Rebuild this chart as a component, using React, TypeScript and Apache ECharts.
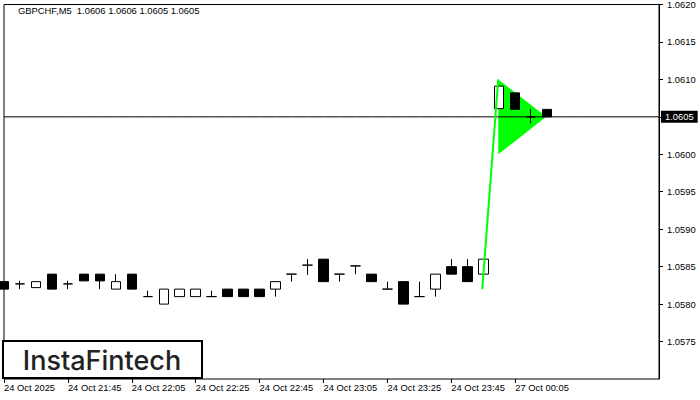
import React, { useEffect, useRef } from "react";
import * as echarts from "echarts";

const symbolName = "GBPCHF,M5";

const categories = [
  "24 Oct 21:25", "24 Oct 21:30", "24 Oct 21:35", "24 Oct 21:40", "24 Oct 21:45", "24 Oct 21:50",
  "24 Oct 21:55", "24 Oct 22:00", "24 Oct 22:05", "24 Oct 22:10", "24 Oct 22:15", "24 Oct 22:20",
  "24 Oct 22:25", "24 Oct 22:30", "24 Oct 22:35", "24 Oct 22:40", "24 Oct 22:45", "24 Oct 22:50",
  "24 Oct 22:55", "24 Oct 23:00", "24 Oct 23:05", "24 Oct 23:10", "24 Oct 23:15", "24 Oct 23:20",
  "24 Oct 23:25", "24 Oct 23:30", "24 Oct 23:35", "24 Oct 23:40", "24 Oct 23:45", "24 Oct 23:50",
  "24 Oct 23:55", "27 Oct 00:00", "27 Oct 00:05", "27 Oct 00:10", "27 Oct 00:15", "27 Oct 00:20",
  "27 Oct 00:25", "27 Oct 00:30", "27 Oct 00:35", "27 Oct 00:40", "27 Oct 00:45", "27 Oct 00:50",
];

const xTickLabels = [
  "24 Oct 2025", "24 Oct 21:45", "24 Oct 22:05", "24 Oct 22:25", "24 Oct 22:45",
  "24 Oct 23:05", "24 Oct 23:25", "24 Oct 23:45", "27 Oct 00:05",
];

const opens = [
  1.0583, 1.05827, 1.05822, 1.0584, 1.05827, 1.0584, 1.0584, 1.0582, 1.0584, 1.0581,
  1.058, 1.0581, 1.0581, 1.0581, 1.0582, 1.0582, 1.0582, 1.0582, 1.0584, 1.05852,
  1.0586, 1.0584, 1.05851, 1.0584, 1.0582, 1.0583, 1.0581, 1.0582, 1.0585, 1.0585,
  1.0584, 1.06061, 1.06082, 1.0605, 1.0606,
];
const closes = [
  1.0582, 1.05827, 1.0583, 1.0582, 1.05827, 1.05831, 1.05831, 1.0583, 1.0582, 1.0581,
  1.0582, 1.0582, 1.0582, 1.0581, 1.0581, 1.0581, 1.0581, 1.0583, 1.0584, 1.05852,
  1.0583, 1.0584, 1.05851, 1.0583, 1.0582, 1.058, 1.0581, 1.0584, 1.0584, 1.0583,
  1.0586, 1.06091, 1.0606, 1.0605, 1.0605,
];
const lows = [
  1.0582, 1.0582, 1.05822, 1.0582, 1.0582, 1.05831, 1.0582, 1.0582, 1.0582, 1.0581,
  1.058, 1.0581, 1.0581, 1.0581, 1.0581, 1.0581, 1.0581, 1.0581, 1.0583, 1.05839,
  1.0583, 1.0583, 1.0584, 1.0583, 1.0582, 1.058, 1.0581, 1.0581, 1.0584, 1.0583,
  1.0584, 1.06061, 1.0606, 1.06041, 1.0605,
];
const highs = [
  1.0583, 1.05831, 1.0583, 1.0584, 1.05831, 1.0584, 1.0584, 1.0584, 1.0584, 1.05818,
  1.0582, 1.0582, 1.0582, 1.05818, 1.0582, 1.0582, 1.0582, 1.0583, 1.0584, 1.0586,
  1.0586, 1.0584, 1.05851, 1.0584, 1.0583, 1.0583, 1.0583, 1.0584, 1.0586, 1.0586,
  1.0586, 1.06091, 1.06082, 1.06061, 1.0606,
];

const currentPrice = 1.0605;
const flagPole = [
  [30, 1.0582],
  [31, 1.061],
];
const flagTriangle = [
  [31, 1.061],
  [31, 1.06],
  [34, 1.0605],
];

const yMin = 1.057;
const yMax = 1.062;
const yStep = 0.0005;

const FONT = "Liberation Sans";

export default function App() {
  const ref = useRef<HTMLDivElement>(null);

  useEffect(() => {
    if (!ref.current) return;
    const chart = echarts.init(ref.current, null, { renderer: "svg" });
    const last = opens.length - 1;
    const header = `${symbolName}  ${opens[last].toFixed(4)} ${highs[last].toFixed(4)} ${lows[last].toFixed(4)} ${closes[last].toFixed(4)}`;
    const candleData = opens.map((o, i) => [o, closes[i], lows[i], highs[i]]);
    const priceLine = categories.map(() => currentPrice);
    const showTick = (idx: number) => idx % 4 === 0 && idx / 4 < xTickLabels.length;

    chart.setOption({
      animation: false,
      backgroundColor: "#ffffff",
      textStyle: { fontFamily: FONT },
      grid: {
        left: 4,
        top: 4,
        width: 655,
        height: 375,
        show: true,
        borderColor: "#000",
        borderWidth: 1,
        backgroundColor: "transparent",
      },
      xAxis: {
        type: "category",
        data: categories,
        boundaryGap: false,
        axisLine: { show: false },
        axisTick: {
          show: true,
          length: 4,
          interval: (idx: number) => showTick(idx),
          lineStyle: { color: "#000" },
        },
        axisLabel: {
          interval: (idx: number) => showTick(idx),
          formatter: (_v: string, idx: number) => (showTick(idx) ? xTickLabels[idx / 4] : ""),
          align: "left",
          margin: 4,
          color: "#000",
          fontSize: 9.4,
          fontFamily: FONT,
        },
        splitLine: { show: false },
      },
      yAxis: {
        type: "value",
        position: "right",
        min: yMin,
        max: yMax,
        interval: yStep,
        scale: true,
        axisLine: { show: true, lineStyle: { color: "#000" } },
        axisTick: { show: true, length: 4, lineStyle: { color: "#000" } },
        axisLabel: {
          showMinLabel: false,
          showMaxLabel: true,
          color: "#000",
          fontSize: 9.4,
          fontFamily: FONT,
          margin: 8,
          formatter: (v: number) =>
            Math.abs(v - currentPrice) < 1e-7 ? "" : v.toFixed(4),
        },
        splitLine: { show: false },
      },
      series: [
        {
          type: "custom",
          name: "flagTriangle",
          z: 1,
          coordinateSystem: "cartesian2d",
          data: flagTriangle,
          renderItem: (params: any, api: any) => {
            if (params.dataIndex !== 0) return { type: "group", children: [] };
            const pts = flagTriangle.map((p) => {
              const c = api.coord(p);
              return [c[0] - 1, c[1]];
            });
            return { type: "polygon", shape: { points: pts }, style: { fill: "#00ff00" } };
          },
          silent: true,
        },
        {
          type: "line",
          name: "price",
          z: 2,
          data: priceLine,
          symbol: "none",
          silent: true,
          lineStyle: { color: "#000", width: 1 },
          endLabel: {
            show: true,
            distance: 2,
            formatter: () => currentPrice.toFixed(4),
            color: "#fff",
            backgroundColor: "#000",
            padding: [2, 4, 1, 4],
            fontSize: 9.4,
            fontFamily: FONT,
          },
        },
        {
          type: "candlestick",
          name: symbolName,
          z: 3,
          data: candleData,
          barWidth: 10,
          itemStyle: {
            color: "#ffffff",
            color0: "#000000",
            borderColor: "#000000",
            borderColor0: "#000000",
            borderColorDoji: "#000000",
            borderWidth: 1,
          },
        },
        {
          type: "custom",
          name: "flagPole",
          z: 4,
          coordinateSystem: "cartesian2d",
          data: flagPole,
          renderItem: (params: any, api: any) => {
            if (params.dataIndex !== 0) return { type: "group", children: [] };
            const pts = flagPole.map((p) => {
              const c = api.coord(p);
              return [c[0] - 1, c[1]];
            });
            return {
              type: "polyline",
              shape: { points: pts },
              style: { stroke: "#00ff00", lineWidth: 2, fill: "none" },
            };
          },
          silent: true,
        },
      ],
      graphic: [
        {
          type: "text",
          left: 18,
          top: 6,
          style: { text: header, fill: "#000", font: `9.4px "${FONT}"` },
        },
        {
          type: "rect",
          shape: { x: 3, y: 341, width: 199, height: 37 },
          style: { fill: "#fff", stroke: "#000", lineWidth: 2 },
          z: 100,
        },
        {
          type: "text",
          x: 102,
          y: 360,
          style: {
            text: "InstaFintech",
            fill: "#222",
            font: `500 27px Inter`,
            align: "center",
            verticalAlign: "middle",
          },
          z: 101,
        },
      ],
    });
    return () => chart.dispose();
  }, []);

  return (
    <div
      ref={ref}
      style={{ position: "fixed", left: 0, top: 0, width: 700, height: 400, background: "#fff" }}
    />
  );
}
